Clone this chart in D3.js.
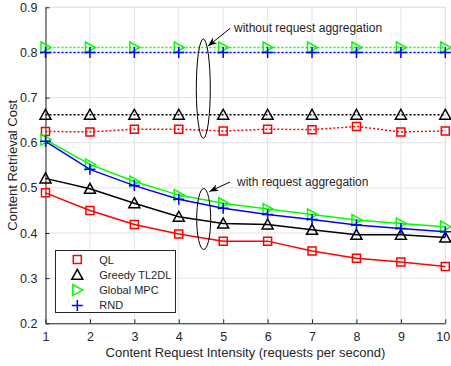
<!DOCTYPE html>
<html><head><meta charset="utf-8">
<script src="https://cdn.jsdelivr.net/npm/d3@7"></script>
<style>body{margin:0;background:#fff}svg{display:block}text{font-family:"Liberation Sans",Arial,sans-serif;fill:#262626}</style>
</head><body><svg id="c" width="451" height="366"></svg>
<script>
const xValues = [1,2,3,4,5,6,7,8,9,10];
const xTicks = [1,2,3,4,5,6,7,8,9,10];
const yTicks = [0.2,0.3,0.4,0.5,0.6,0.7,0.8,0.9];
const seriesNames = ["QL","Greedy TL2DL","Global MPC","RND"];
// without request aggregation (dotted)
const qlNoAgg     = [0.625,0.624,0.630,0.630,0.626,0.630,0.629,0.636,0.624,0.626];
const greedyNoAgg = [0.662,0.662,0.662,0.662,0.662,0.662,0.662,0.662,0.662,0.662];
const mpcNoAgg    = [0.811,0.811,0.811,0.811,0.811,0.811,0.811,0.811,0.811,0.811];
const rndNoAgg    = [0.800,0.800,0.800,0.800,0.800,0.800,0.800,0.800,0.800,0.800];
// with request aggregation (solid)
const qlAgg     = [0.489,0.450,0.419,0.398,0.382,0.382,0.360,0.344,0.336,0.326];
const greedyAgg = [0.521,0.498,0.466,0.436,0.421,0.419,0.407,0.396,0.396,0.390];
const mpcAgg    = [0.607,0.552,0.514,0.484,0.466,0.453,0.441,0.429,0.421,0.414];
const rndAgg    = [0.603,0.541,0.505,0.475,0.455,0.441,0.430,0.418,0.410,0.403];
const annotations = ["without request aggregation","with request aggregation"];

const colors = ["#ff0000","#000000","#00ff00","#0000ff"];
const markers = ["square","triangle","rtriangle","plus"];

const svg = d3.select("#c");
const L=45.5, R=445.3, T=7.3, B=323.3;
const x = d3.scaleLinear().domain([1,10]).range([L,R]);
const y = d3.scaleLinear().domain([0.2,0.9]).range([B,T]);

// grid
const g = svg.append("g");
g.selectAll(".gx").data(xTicks).enter().append("line")
  .attr("x1",d=>x(d)).attr("x2",d=>x(d)).attr("y1",T).attr("y2",B)
  .attr("stroke","#e3e3e3").attr("stroke-width",1);
g.selectAll(".gy").data(yTicks).enter().append("line")
  .attr("x1",L).attr("x2",R).attr("y1",d=>y(d)).attr("y2",d=>y(d))
  .attr("stroke","#e3e3e3").attr("stroke-width",1);
g.append("line").attr("x1",L).attr("x2",R).attr("y1",T).attr("y2",T).attr("stroke","#e3e3e3");
g.append("line").attr("x1",R).attr("x2",R).attr("y1",T).attr("y2",B).attr("stroke","#e3e3e3");

// axes
const xAxis = d3.axisBottom(x).tickValues(xTicks).tickSizeInner(-4).tickSizeOuter(0).tickPadding(9).tickFormat(d3.format("d"));
const yAxis = d3.axisLeft(y).tickValues(yTicks).tickSizeInner(-4).tickSizeOuter(0).tickPadding(8).tickFormat(d3.format(".1f"));
const ax = svg.append("g").attr("transform",`translate(0,${B})`).call(xAxis);
const ay = svg.append("g").attr("transform",`translate(${L},0)`).call(yAxis);
[ax,ay].forEach(a=>{
  a.select(".domain").attr("stroke","#262626").attr("stroke-width",1);
  a.selectAll(".tick line").attr("stroke","#262626");
  a.selectAll(".tick text").attr("font-size",12.5).attr("fill","#262626").style("font-family","'Liberation Sans',Arial,sans-serif");
});
// keep the last x tick label inside the window
ax.selectAll(".tick text").filter(d=>d===10).attr("dx",-2.5);

function markerPath(type){
  if(type==="square") return "M-4,-4H4V4H-4Z";
  if(type==="triangle") return "M0,-5.5L5.5,4.5L-5.5,4.5Z";
  if(type==="rtriangle") return "M-4.5,-5.5L5.5,0L-4.5,5.5Z";
  return "M-5.5,0H5.5M0,-5.5V5.5";
}

const line = d3.line().x((d,i)=>x(xValues[i])).y(d=>y(d));
function drawSeries(vals, idx, dotted){
  const s = svg.append("g");
  s.append("path").datum(vals).attr("d",line).attr("fill","none")
    .attr("stroke",colors[idx]).attr("stroke-width",1.5)
    .attr("stroke-dasharray",dotted?"2,2":null);
  s.selectAll("path.m").data(vals).enter().append("path").attr("class","m")
    .attr("transform",(d,i)=>`translate(${x(xValues[i])},${y(d)})`)
    .attr("d",markerPath(markers[idx])).attr("fill","none")
    .attr("stroke",colors[idx]).attr("stroke-width",1.5);
}
[qlNoAgg,greedyNoAgg,mpcNoAgg,rndNoAgg].forEach((v,i)=>drawSeries(v,i,true));
[qlAgg,greedyAgg,mpcAgg,rndAgg].forEach((v,i)=>drawSeries(v,i,false));

// annotations
const defs = svg.append("defs");
defs.append("marker").attr("id","ah").attr("viewBox","0 0 10 10").attr("refX",10).attr("refY",5)
  .attr("markerWidth",9).attr("markerHeight",9).attr("markerUnits","userSpaceOnUse").attr("orient","auto")
  .append("path").attr("d","M0,1L10,5L0,9L3,5Z").attr("fill","#000");
function annot(cx,cy,rx,ry,tx,ty,hx,hy,txtX,txtY,label){
  svg.append("ellipse").attr("cx",cx).attr("cy",cy).attr("rx",rx).attr("ry",ry)
    .attr("fill","none").attr("stroke","#000").attr("stroke-width",1);
  svg.append("line").attr("x1",tx).attr("y1",ty).attr("x2",hx).attr("y2",hy)
    .attr("stroke","#000").attr("stroke-width",1).attr("marker-end","url(#ah)");
  svg.append("text").attr("x",txtX).attr("y",txtY).attr("font-size",12).text(label);
}
annot(203.3,88.7,7,49.7, 230,28.5, 208,46, 234,32, annotations[0]);
annot(203.7,219,7,30.5, 230,182, 209.5,191.5, 237,186, annotations[1]);

// legend
const lg = svg.append("g");
lg.append("rect").attr("x",55.5).attr("y",250.5).attr("width",120).attr("height",62)
  .attr("fill","#fff").attr("stroke","#262626").attr("stroke-width",1);
seriesNames.forEach((n,i)=>{
  const yy = 259.5 + i*15.3;
  lg.append("path").attr("transform",`translate(77.3,${yy})`).attr("d",markerPath(markers[i]))
    .attr("fill","none").attr("stroke",colors[i]).attr("stroke-width",1.5);
  lg.append("text").attr("x",99.3).attr("y",yy+4).attr("font-size",11).text(n);
});

// axis labels
svg.append("text").attr("x",(L+R)/2).attr("y",357).attr("text-anchor","middle").attr("font-size",13)
  .text("Content Request Intensity (requests per second)");
svg.append("text").attr("transform",`translate(17,${(T+B)/2}) rotate(-90)`).attr("text-anchor","middle").attr("font-size",13)
  .text("Content Retrieval Cost");
</script></body></html>
